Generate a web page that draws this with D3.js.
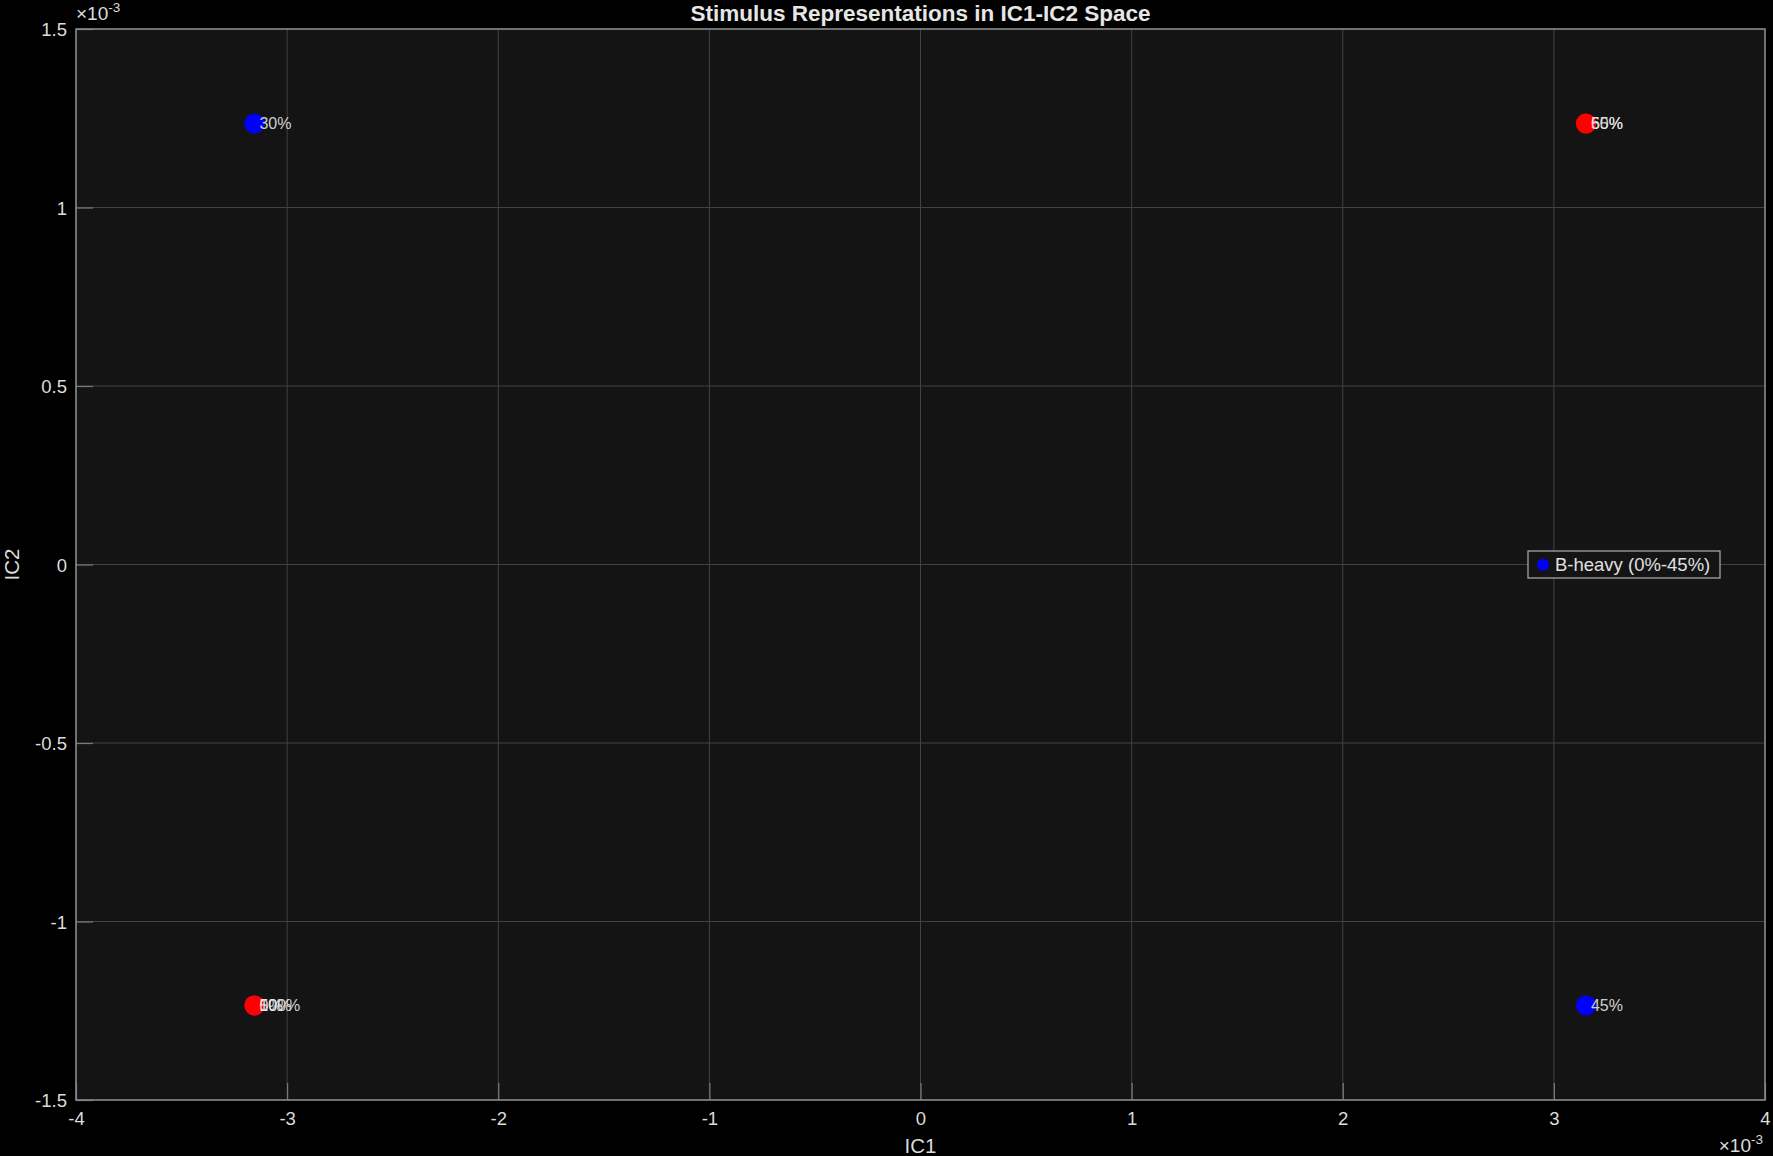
<!DOCTYPE html>
<html><head><meta charset="utf-8">
<script src="https://cdn.jsdelivr.net/npm/d3@7"></script>
<style>
html,body{margin:0;padding:0;background:#000;}
svg{display:block;font-family:"Liberation Sans",Arial,sans-serif;}
</style></head>
<body>
<script>
// ---- data (units of 1e-3) ----
const xTicks = [-4,-3,-2,-1,0,1,2,3,4];
const yTicks = [-1.5,-1,-0.5,0,0.5,1,1.5];
const blueLabels = ["0%","30%","45%"];
const blueX = [-3.155, -3.155, 3.152];
const blueY = [-1.235, 1.235, -1.235];
const redLabels = ["50%","55%","60%","100%"];
const redX = [-3.155, 3.152, 3.152, -3.155];
const redY = [-1.235, 1.235, 1.235, -1.235];
const legendLabel = "B-heavy (0%-45%)";
const titleText = "Stimulus Representations in IC1-IC2 Space";

const W = 1773, H = 1156;
const L = 76, R = 1765, T = 29, B = 1100;
const svg = d3.select("body").append("svg").attr("width",W).attr("height",H);
svg.append("rect").attr("width",W).attr("height",H).attr("fill","#000");

const x = d3.scaleLinear().domain([-4,4]).range([L,R]);
const y = d3.scaleLinear().domain([-1.5,1.5]).range([B,T]);

svg.append("rect").attr("x",L).attr("y",T).attr("width",R-L).attr("height",B-T).attr("fill","#141414");

// grid
const g = svg.append("g");
g.selectAll(".gx").data(xTicks).enter().append("line")
  .attr("x1",d=>x(d)).attr("x2",d=>x(d)).attr("y1",T).attr("y2",B)
  .attr("stroke","#424242").attr("stroke-width",1);
g.selectAll(".gy").data(yTicks).enter().append("line")
  .attr("y1",d=>y(d)).attr("y2",d=>y(d)).attr("x1",L).attr("x2",R)
  .attr("stroke","#424242").attr("stroke-width",1);

// axes with inward ticks
const xAxis = d3.axisBottom(x).tickValues(xTicks).tickSize(-17).tickPadding(22)
  .tickFormat(d=>String(d));
const yAxis = d3.axisLeft(y).tickValues(yTicks).tickSize(-17).tickPadding(26)
  .tickFormat(d=>String(d));
const ax = svg.append("g").attr("transform",`translate(0,${B})`).call(xAxis);
const ay = svg.append("g").attr("transform",`translate(${L},0)`).call(yAxis);
[ax,ay].forEach(a=>{
  a.select(".domain").remove();
  a.selectAll(".tick line").attr("stroke","#7a7a7a").attr("stroke-width",1.2);
  a.selectAll(".tick text").attr("fill","#dcdcdc").attr("font-size","18.5px")
    .attr("font-family","Liberation Sans, Arial, sans-serif");
});
ay.selectAll(".tick text").attr("dy","0.36em").attr("x",-9);
ax.selectAll(".tick text").attr("dy","0.71em").attr("y",12);

// box
svg.append("rect").attr("x",L).attr("y",T).attr("width",R-L).attr("height",B-T)
  .attr("fill","none").attr("stroke","#8a8a8a").attr("stroke-width",1.5);

// exponent labels
const e1 = svg.append("text").attr("x",L).attr("y",20).attr("fill","#dcdcdc").attr("font-size","19px");
e1.append("tspan").text("×10");
e1.append("tspan").attr("font-size","13.5px").attr("dy","-8").text("-3");
const e2 = svg.append("text").attr("x",R-2).attr("y",1152).attr("text-anchor","end").attr("fill","#dcdcdc").attr("font-size","19px");
e2.append("tspan").text("×10");
e2.append("tspan").attr("font-size","13.5px").attr("dy","-8").text("-3");

// title & labels
svg.append("text").attr("x",(L+R)/2).attr("y",21).attr("text-anchor","middle")
  .attr("fill","#e6e6e6").attr("font-weight","bold").attr("font-size","22.5px").text(titleText);
svg.append("text").attr("x",(L+R)/2).attr("y",1153).attr("text-anchor","middle")
  .attr("fill","#dcdcdc").attr("font-size","20.5px").text("IC1");
svg.append("text").attr("transform",`translate(19,${(T+B)/2}) rotate(-90)`).attr("text-anchor","middle")
  .attr("fill","#dcdcdc").attr("font-size","20.5px").text("IC2");

// points
const blue = blueX.map((v,i)=>({x:v,y:blueY[i],l:blueLabels[i]}));
const red = redX.map((v,i)=>({x:v,y:redY[i],l:redLabels[i]}));
svg.selectAll(".pb").data(blue).enter().append("circle")
  .attr("cx",d=>x(d.x)).attr("cy",d=>y(d.y)).attr("r",10).attr("fill","#0000ff");
svg.selectAll(".pr").data(red).enter().append("circle")
  .attr("cx",d=>x(d.x)).attr("cy",d=>y(d.y)).attr("r",10).attr("fill","#ff0000");
svg.selectAll(".lb").data(blue.concat(red)).enter().append("text")
  .attr("x",d=>x(d.x)+5).attr("y",d=>y(d.y)).attr("dy","0.36em")
  .attr("fill","#e6e6e6").attr("fill-opacity",0.9).attr("font-size","16px").text(d=>d.l);

// legend
const lg = svg.append("g");
lg.append("rect").attr("x",1528).attr("y",551).attr("width",192).attr("height",27)
  .attr("fill","#141414").attr("stroke","#b0b0b0").attr("stroke-width",1.2);
lg.append("circle").attr("cx",1543).attr("cy",564.7).attr("r",6).attr("fill","#0000ff");
lg.append("text").attr("x",1555).attr("y",564.7).attr("dy","0.36em").attr("fill","#e0e0e0")
  .attr("font-size","18.5px").text(legendLabel);
</script>
</body></html>
